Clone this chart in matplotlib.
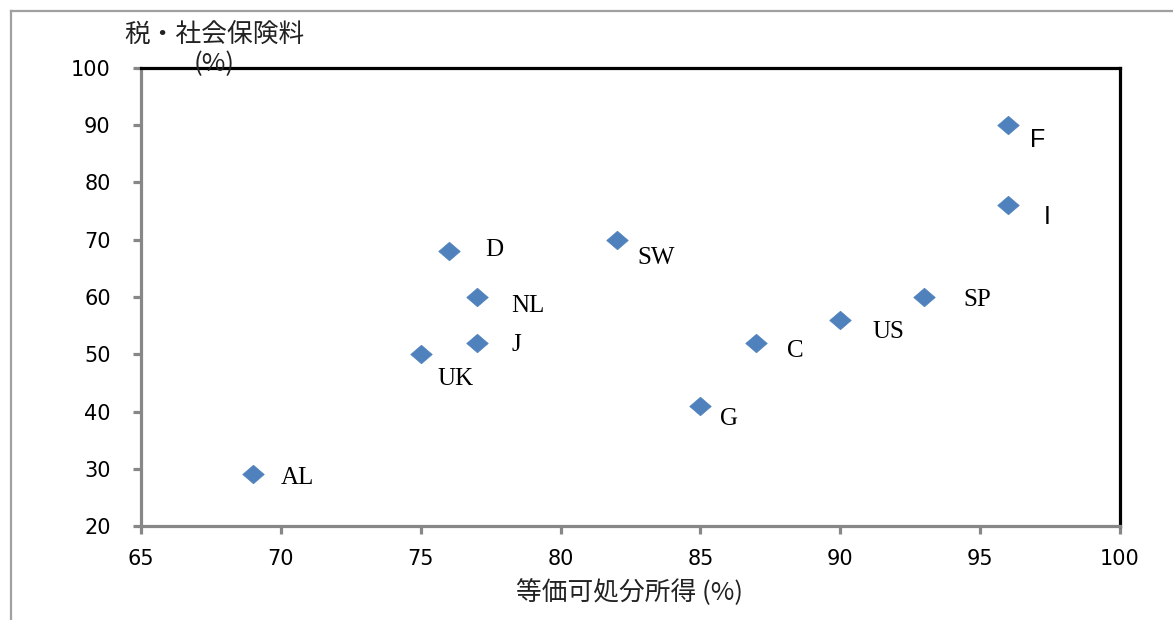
import matplotlib
matplotlib.use("Agg")
import matplotlib.pyplot as plt
from matplotlib.lines import Line2D

# ---- data ----
countries = ["AL", "UK", "D", "NL", "J", "SW", "G", "C", "US", "SP", "F", "I"]
disposable_income = [69, 75, 76, 77, 77, 82, 85, 87, 90, 93, 96, 96]
tax_social = [29, 50, 68, 60, 52, 70, 41, 52, 56, 60, 90, 76]
x_ticks = [65, 70, 75, 80, 85, 90, 95, 100]
y_ticks = [20, 30, 40, 50, 60, 70, 80, 90, 100]
x_label = "等価可処分所得 (%)"
y_label = "税・社会保険料\n(%)"

# label offsets in pixels (dx right, dy up)
label_offsets = {
    "AL": (28, -4), "UK": (17, -25), "D": (37, 1), "NL": (35, -9),
    "J": (35, -2), "SW": (21, -18), "G": (20, -13), "C": (31, -8),
    "US": (32, -12), "SP": (39, -3), "F": (22, -15), "I": (36, -12),
}
sans_labels = {"F", "I"}

W, H = 1173, 620
fig = plt.figure(figsize=(W / 100, H / 100), dpi=100)
ax = fig.add_axes([141 / W, 1 - 526 / H, (1120 - 141) / W, (526 - 68) / H])

diamond = [(-1, 0), (0, 0.86), (1, 0), (0, -0.86), (-1, 0)]
ax.plot(disposable_income, tax_social, linestyle="none", marker=diamond,
        markersize=15.5, color="#4F81BD", markeredgecolor="#4F81BD",
        markeredgewidth=0.5, zorder=3)

for name, xv, yv in zip(countries, disposable_income, tax_social):
    dx, dy = label_offsets[name]
    fam = "Liberation Sans" if name in sans_labels else "Liberation Serif"
    ax.annotate(name, (xv, yv), xytext=(dx, dy), textcoords="offset pixels",
                ha="left", va="center", fontsize=18, family=fam, color="black")

ax.set_xlim(65, 100)
ax.set_ylim(20, 100)
ax.set_xticks(x_ticks)
ax.set_yticks(y_ticks)

gray = "#878787"
for s in ["left", "bottom"]:
    ax.spines[s].set_color(gray)
    ax.spines[s].set_linewidth(2.3)
for s in ["top", "right"]:
    ax.spines[s].set_color("black")
    ax.spines[s].set_linewidth(2.3)
ax.spines["top"].set_zorder(4)

ax.tick_params(axis="both", direction="out", length=5.8, width=2.3,
               color=gray, labelcolor="black", labelsize=15)
ax.tick_params(axis="y", pad=16)
ax.tick_params(axis="x", pad=11)
for lab in ax.get_xticklabels() + ax.get_yticklabels():
    lab.set_family("DejaVu Sans")

cjk = ["Noto Sans CJK JP", "DejaVu Sans"]
fig.text(630 / W, 1 - 593 / H, x_label, ha="center", va="center",
         fontsize=18.5, family=cjk, color="#222222")
fig.text(214 / W, 1 - 50 / H, y_label, ha="center", va="center",
         fontsize=18.5, family=cjk, color="#222222", linespacing=1.1)

# outer frame (left and top edges visible)
fig.add_artist(Line2D([11 / W, 11 / W], [0, 1 - 11 / H], transform=fig.transFigure,
                      color="#A0A0A0", linewidth=1.6))
fig.add_artist(Line2D([11 / W, 1], [1 - 11 / H, 1 - 11 / H], transform=fig.transFigure,
                      color="#A0A0A0", linewidth=1.6))

fig.savefig("out.png", dpi=100)
